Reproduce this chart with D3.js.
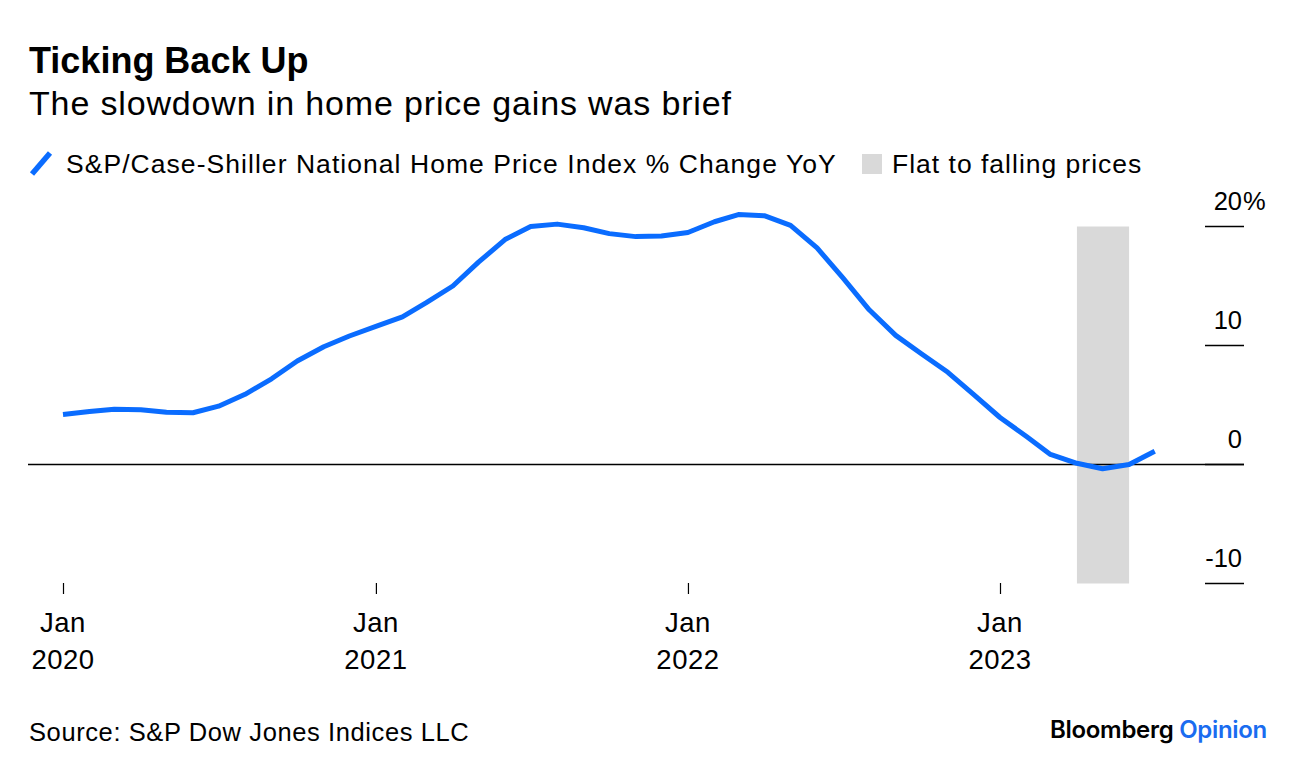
<!DOCTYPE html>
<html>
<head>
<meta charset="utf-8">
<script src="https://cdn.jsdelivr.net/npm/d3@7"></script>
<style>
  html, body { margin: 0; padding: 0; background: #fff; }
  svg { display: block; }
  text { font-family: "Liberation Sans", Arial, Helvetica, sans-serif; fill: #000; }
</style>
</head>
<body>
<svg id="chart" width="1296" height="774"></svg>
<script>
// ---- data ----
const months = [
  "2020-01","2020-02","2020-03","2020-04","2020-05","2020-06","2020-07","2020-08","2020-09","2020-10","2020-11","2020-12",
  "2021-01","2021-02","2021-03","2021-04","2021-05","2021-06","2021-07","2021-08","2021-09","2021-10","2021-11","2021-12",
  "2022-01","2022-02","2022-03","2022-04","2022-05","2022-06","2022-07","2022-08","2022-09","2022-10","2022-11","2022-12",
  "2023-01","2023-02","2023-03","2023-04","2023-05","2023-06","2023-07"
];
const yoyChange = [
  4.2, 4.45, 4.65, 4.6, 4.4, 4.35, 4.9, 5.9, 7.2, 8.7, 9.9, 10.8,
  11.6, 12.4, 13.6, 15.0, 17.0, 18.9, 20.0, 20.2, 19.9, 19.4, 19.15, 19.2,
  19.5, 20.4, 21.0, 20.9, 20.1, 18.2, 15.7, 13.0, 10.85, 9.3, 7.75, 5.9,
  3.95, 2.35, 0.85, 0.1, -0.36, 0.0, 1.12
];
const shadeStart = "2023-04";
const shadeEnd = "2023-06";
const yTicks = [20, 10, 0, -10];
const xTickMonths = ["2020-01", "2021-01", "2022-01", "2023-01"];

const titleText = "Ticking Back Up";
const subtitleText = "The slowdown in home price gains was brief";
const seriesName = "S&P/Case-Shiller National Home Price Index % Change YoY";
const shadeName = "Flat to falling prices";
const sourceText = "Source: S&P Dow Jones Indices LLC";

// ---- setup ----
const BLUE = "#0a6cff";
const GRAY = "#d9d9d9";
const parse = d3.timeParse("%Y-%m");
const data = months.map((m, i) => ({ date: parse(m), value: yoyChange[i] }));

const svg = d3.select("#chart");

const x = d3.scaleTime()
  .domain([parse("2020-01"), parse("2023-01")])
  .range([63, 1000]);
const y = d3.scaleLinear()
  .domain([-10, 20])
  .range([583.5, 226.5]);

const plotLeft = 28, plotRight = 1244;

// title
svg.append("text").attr("x", 29).attr("y", 73)
  .attr("font-size", 36).attr("font-weight", "bold").text(titleText);
svg.append("text").attr("x", 29).attr("y", 115)
  .attr("font-size", 34).style("letter-spacing", "0.85px").text(subtitleText);

// legend
const lg = svg.append("g");
lg.append("line").attr("x1", 32).attr("y1", 174).attr("x2", 50).attr("y2", 153)
  .attr("stroke", BLUE).attr("stroke-width", 5.5).attr("stroke-linecap", "butt");
lg.append("text").attr("x", 66).attr("y", 173).attr("font-size", 26.5)
  .style("letter-spacing", "1.05px").text(seriesName);
lg.append("rect").attr("x", 862).attr("y", 154).attr("width", 20).attr("height", 20).attr("fill", GRAY);
lg.append("text").attr("x", 892).attr("y", 173).attr("font-size", 26.5)
  .style("letter-spacing", "1px").text(shadeName);

// shaded region
svg.append("rect")
  .attr("x", x(parse(shadeStart)))
  .attr("y", y(20))
  .attr("width", x(parse(shadeEnd)) - x(parse(shadeStart)))
  .attr("height", y(-10) - y(20))
  .attr("fill", GRAY);

// y axis (right): short tick lines + labels above
const yAxis = d3.axisRight(y).tickValues(yTicks).tickSize(0).tickFormat("");
const yg = svg.append("g").attr("transform", `translate(${plotRight},0)`).call(yAxis);
yg.select(".domain").remove();
yTicks.forEach(v => {
  svg.append("line")
    .attr("x1", 1205).attr("x2", plotRight)
    .attr("y1", y(v)).attr("y2", y(v))
    .attr("stroke", "#000").attr("stroke-width", 1.5);
  svg.append("text")
    .attr("x", 1242).attr("y", y(v) - 17)
    .attr("text-anchor", "end").attr("font-size", 25.5)
    .text(String(v));
  if (v === yTicks[0]) {
    svg.append("text")
      .attr("x", 1243).attr("y", y(v) - 17)
      .attr("font-size", 25.5)
      .text("%");
  }
});

// zero line
svg.append("line")
  .attr("x1", plotLeft).attr("x2", plotRight)
  .attr("y1", y(0)).attr("y2", y(0))
  .attr("stroke", "#000").attr("stroke-width", 1.5);

// x axis
const xAxis = d3.axisBottom(x)
  .tickValues(xTickMonths.map(parse))
  .tickSize(11)
  .tickFormat("");
const xg = svg.append("g").attr("transform", "translate(0,583)").call(xAxis);
xg.select(".domain").remove();
xg.selectAll(".tick line").attr("stroke", "#000").attr("stroke-width", 1.2);
xTickMonths.forEach(m => {
  const d = parse(m);
  const t = svg.append("text").attr("x", x(d)).attr("text-anchor", "middle")
    .attr("font-size", 27.5).style("letter-spacing", "0.5px");
  t.append("tspan").attr("x", x(d)).attr("y", 632).text(d3.timeFormat("%b")(d));
  t.append("tspan").attr("x", x(d)).attr("y", 669).text(d3.timeFormat("%Y")(d));
});

// line
const line = d3.line()
  .x(d => x(d.date))
  .y(d => y(d.value))
  .curve(d3.curveLinear);
svg.append("path").datum(data)
  .attr("d", line)
  .attr("fill", "none")
  .attr("stroke", BLUE)
  .attr("stroke-width", 5)
  .attr("stroke-linejoin", "round")
  .attr("stroke-linecap", "butt");

// footer
svg.append("text").attr("x", 29).attr("y", 741).attr("font-size", 25.5)
  .style("letter-spacing", "0.6px").text(sourceText);
const logo = svg.append("text").attr("x", 1267).attr("y", 738).attr("text-anchor", "end")
  .attr("font-size", 24).attr("font-weight", 600)
  .style("font-family", "Inter, 'Noto Sans', sans-serif")
  .style("letter-spacing", "-0.3px");
logo.append("tspan").attr("fill", "#000").text("Bloomberg ");
logo.append("tspan").attr("fill", "#1a6cf0").text("Opinion");
</script>
</body>
</html>
